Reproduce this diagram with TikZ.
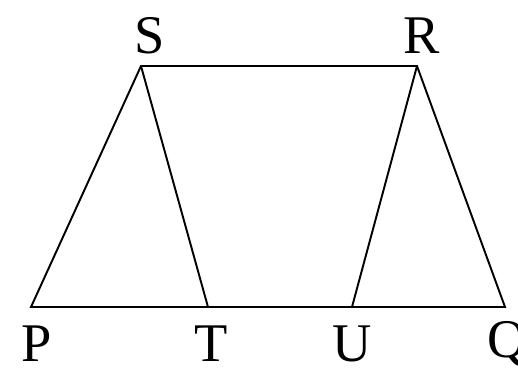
\documentclass[tikz,border=0pt]{standalone}
\usepackage{fontspec}
\setmainfont{Liberation Serif}
\usepackage{tikz}
\usetikzlibrary{positioning}

\begin{document}
\begin{tikzpicture}[x=0.02cm, y=-0.02cm, line width=1.1pt,
  lbl/.style={font=\fontsize{31}{36}\selectfont, inner sep=0pt}]
  \useasboundingbox (0,0) rectangle (518,373);
  % vertices
  \coordinate (S) at (141,66);
  \coordinate (R) at (417,66);
  \coordinate (P) at (31,307);
  \coordinate (T) at (208,307);
  \coordinate (U) at (352,307);
  \coordinate (Q) at (505,307);
  % sides
  \draw (P) -- (Q) -- (R) -- (S) -- cycle;
  \draw (S) -- (T);
  \draw (U) -- (R);
  % labels
  \node[lbl] (lS) at (150,36) {S};
  \node[lbl] (lR) at (422,36) {R};
  \node[lbl] (lP) at (37,344) {P};
  \node[lbl] (lT) at (211,344) {T};
  \node[lbl] (lU) at (352,344) {U};
  \node[lbl] (lQ) at (507,344) {Q};
\end{tikzpicture}
\end{document}
